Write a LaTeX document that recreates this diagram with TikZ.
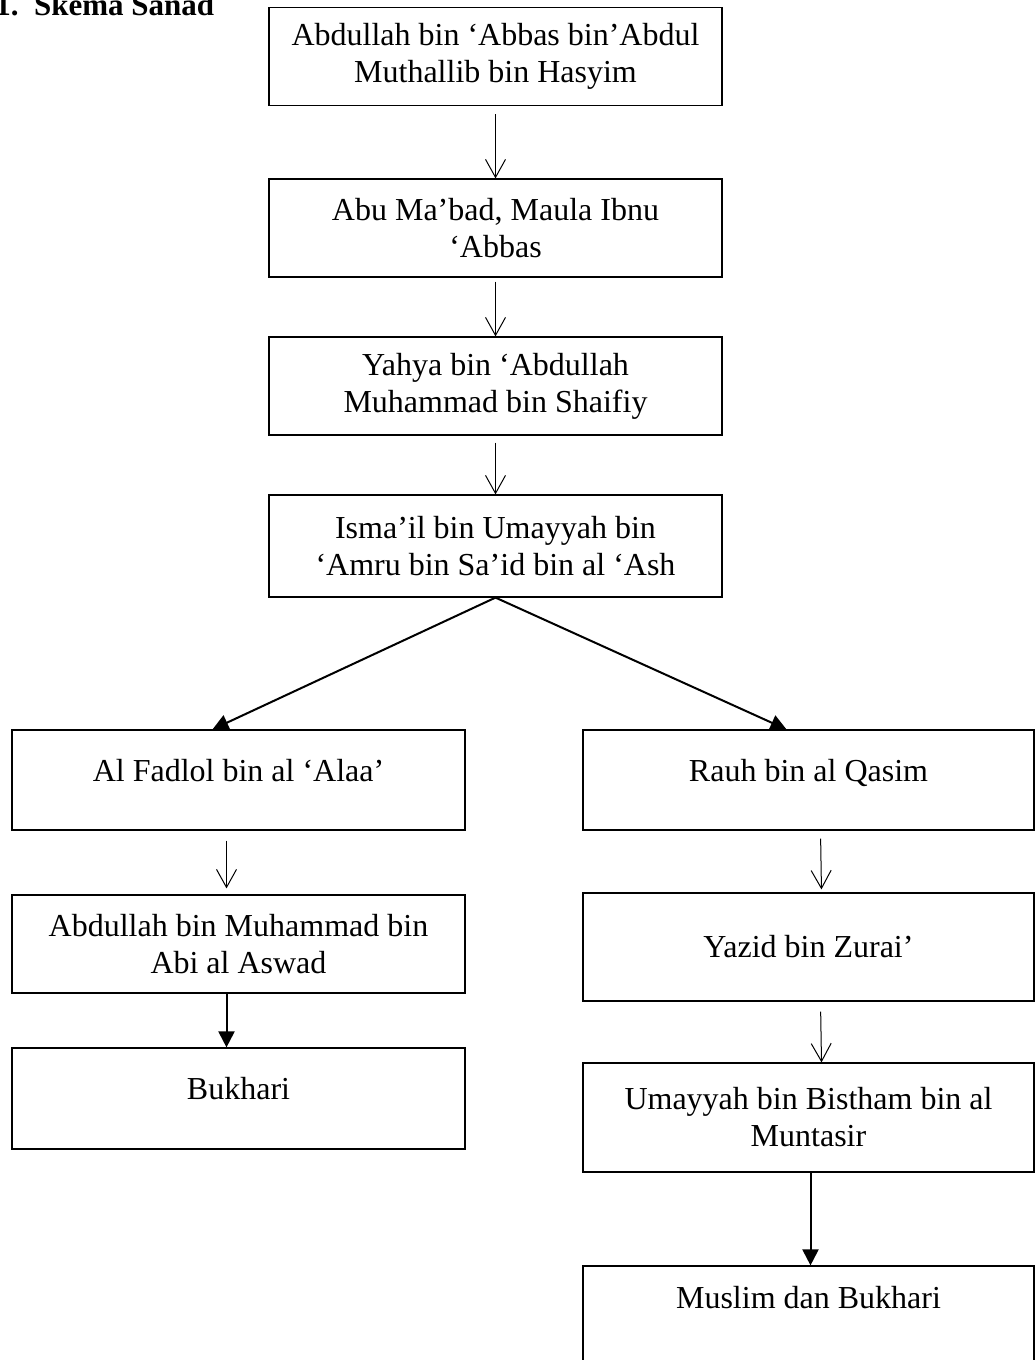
\documentclass[tikz,border=0pt]{standalone}
\usepackage{fontspec}
\setmainfont{Liberation Serif}
\usepackage{tikz}
\usetikzlibrary{arrows.meta,positioning}

\begin{document}
\begin{tikzpicture}[
    x=0.5pt, y=-0.5pt,
    box/.style={rectangle, draw, line width=0.6pt, minimum width=226.5pt, minimum height=49pt, align=center, font=\fontsize{16}{18.5}\selectfont, inner sep=0pt},
    thin arrow/.style={-{Straight Barb[length=9pt,width=10pt]}, line width=0.5pt},
    bold arrow/.style={-{Triangle[length=8pt,width=8pt]}, line width=1pt}
]
\useasboundingbox (0,0) rectangle (1035,1360);

% Title
\node[anchor=base west, font=\fontsize{15.5}{18.5}\selectfont\bfseries, inner sep=0pt] (title) at (-5,15) {1.\ \ Skema Sanad};

% Chain of narrators
\node[box] (abdullah) at (495.5,56.5) {Abdullah bin ‘Abbas bin’Abdul\\Muthallib bin Hasyim};
\node[box] (abumabad) at (495.5,228) {Abu Ma’bad, Maula Ibnu\\‘Abbas};
\node[box] (yahya) at (495.5,386) {Yahya bin ‘Abdullah\\Muhammad bin Shaifiy};
\node[box, minimum height=51pt] (ismail) at (495.5,546) {Isma’il bin Umayyah bin\\‘Amru bin Sa’id bin al ‘Ash};

% Left branch
\node[box, minimum height=50pt, text depth=10pt] (fadlol) at (238.5,780) {Al Fadlol bin al ‘Alaa’};
\node[box] (abiaswad) at (238.5,944) {Abdullah bin Muhammad bin\\Abi al Aswad};
\node[box, minimum height=50.5pt, text depth=10pt] (bukhari) at (238.5,1098.5) {Bukhari};

% Right branch
\node[box, minimum width=225.5pt, minimum height=50pt, text depth=10pt] (rauh) at (808.5,780) {Rauh bin al Qasim};
\node[box, minimum width=225.5pt, minimum height=54pt] (yazid) at (808.5,947) {Yazid bin Zurai’};
\node[box, minimum width=225.5pt, minimum height=54.5pt] (umayyah) at (808.5,1117.5) {Umayyah bin Bistham bin al\\Muntasir};
\node[box, minimum width=225.5pt, minimum height=67pt, text depth=36pt] (muslim) at (808.5,1333) {Muslim dan Bukhari};

% Arrows
\draw[thin arrow, shorten <=4pt] (abdullah) -- (abumabad);
\draw[thin arrow, shorten <=2pt] (abumabad) -- (yahya);
\draw[thin arrow, shorten <=3.5pt] (yahya) -- (ismail);
\draw[bold arrow] (ismail.south) -- ([xshift=-13pt]fadlol.north);
\draw[bold arrow] (ismail.south) -- ([xshift=-11pt]rauh.north);
\draw[thin arrow, shorten <=5pt, shorten >=3pt] ([xshift=-6pt]fadlol.south) -- ([xshift=-6pt]abiaswad.north);
\draw[bold arrow] ([xshift=-6pt]abiaswad.south) -- ([xshift=-6pt]bukhari.north);
\draw[thin arrow, shorten <=4pt, shorten >=1.5pt] ([xshift=6pt]rauh.south) -- ([xshift=6.5pt]yazid.north);
\draw[thin arrow, shorten <=5pt] ([xshift=6pt]yazid.south) -- ([xshift=6.5pt]umayyah.north);
\draw[bold arrow] ([xshift=1pt]umayyah.south) -- ([xshift=1pt]muslim.north);

\end{tikzpicture}
\end{document}
